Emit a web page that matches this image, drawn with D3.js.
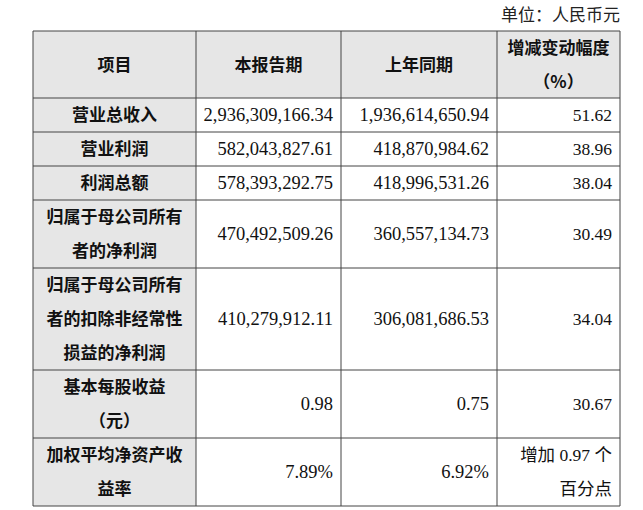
<!DOCTYPE html>
<html><head><meta charset="utf-8">
<script src="https://cdn.jsdelivr.net/npm/d3@7"></script>
<style>body{margin:0;background:#fff}</style>
</head><body><svg id="t" width="643" height="510"></svg>
<script>
// Table data
var headers = [["项目"], ["本报告期"], ["上年同期"], ["增减变动幅度", "（%）"]];
var items = [["营业总收入"], ["营业利润"], ["利润总额"], ["归属于母公司所有", "者的净利润"],
  ["归属于母公司所有", "者的扣除非经常性", "损益的净利润"], ["基本每股收益", "（元）"], ["加权平均净资产收", "益率"]];
var current = ["2,936,309,166.34", "582,043,827.61", "578,393,292.75", "470,492,509.26", "410,279,912.11", "0.98", "7.89%"];
var previous = ["1,936,614,650.94", "418,870,984.62", "418,996,531.26", "360,557,134.73", "306,081,686.53", "0.75", "6.92%"];
var change = [["51.62"], ["38.96"], ["38.04"], ["30.49"], ["34.04"], ["30.67"], ["增加 0.97 个", "百分点"]];

var svg = d3.select("#t");
var colX = [33, 196, 341, 497, 620];
var top0 = 31, headH = 67, lineH = 34;
var cjk = "'Noto Sans CJK SC', sans-serif";
var serif = "'Liberation Serif', 'Times New Roman', serif";

svg.append("text").attr("x", 620).attr("y", 21).attr("text-anchor", "end")
  .attr("font-family", serif + "," + cjk).attr("font-size", 17).attr("fill", "#222").text("单位：人民币元");

// Row geometry
var rows = [];
var y = top0 + headH;
items.forEach(function(d, i) {
  var h = d.length * lineH;
  rows.push({y: y, h: h, i: i});
  y += h;
});
var bottom = y;

svg.append("rect").attr("x", colX[0]).attr("y", top0).attr("width", colX[4] - colX[0]).attr("height", headH).attr("fill", "#e6e6e6");
svg.append("rect").attr("x", colX[0]).attr("y", top0 + headH).attr("width", colX[1] - colX[0]).attr("height", bottom - top0 - headH).attr("fill", "#e6e6e6");

function lines(g, arr, x, yc, anchor, font, weight, size) {
  var n = arr.length;
  arr.forEach(function(s, k) {
    g.append("text").attr("x", x).attr("y", yc + (k - (n - 1) / 2) * lineH + 6)
      .attr("text-anchor", anchor).attr("font-family", font).attr("font-weight", weight)
      .attr("font-size", size).attr("fill", "#111").text(s);
  });
}

var g = svg.append("g");
headers.forEach(function(h, c) {
  lines(g, h, (colX[c] + colX[c + 1]) / 2, top0 + headH / 2, "middle", cjk, "bold", 17);
});
rows.forEach(function(r) {
  var yc = r.y + r.h / 2;
  lines(g, items[r.i], (colX[0] + colX[1]) / 2, yc, "middle", cjk, "bold", 17);
  lines(g, [current[r.i]], colX[2] - 8, yc, "end", serif, "normal", 18.5);
  lines(g, [previous[r.i]], colX[3] - 8, yc, "end", serif, "normal", 18.5);
  lines(g, change[r.i], colX[4] - 8, yc, "end", serif + "," + cjk, "normal", 17.5);
});

// Grid lines
var hy = [top0, top0 + headH].concat(rows.map(function(r) { return r.y + r.h; }));
svg.selectAll(".h").data(hy).enter().append("line")
  .attr("x1", colX[0]).attr("x2", colX[4]).attr("y1", function(d) { return d; }).attr("y2", function(d) { return d; })
  .attr("stroke", "#444").attr("stroke-width", 1);
svg.selectAll(".v").data(colX).enter().append("line")
  .attr("y1", top0).attr("y2", bottom).attr("x1", function(d) { return d; }).attr("x2", function(d) { return d; })
  .attr("stroke", "#444").attr("stroke-width", 1);
</script></body></html>
